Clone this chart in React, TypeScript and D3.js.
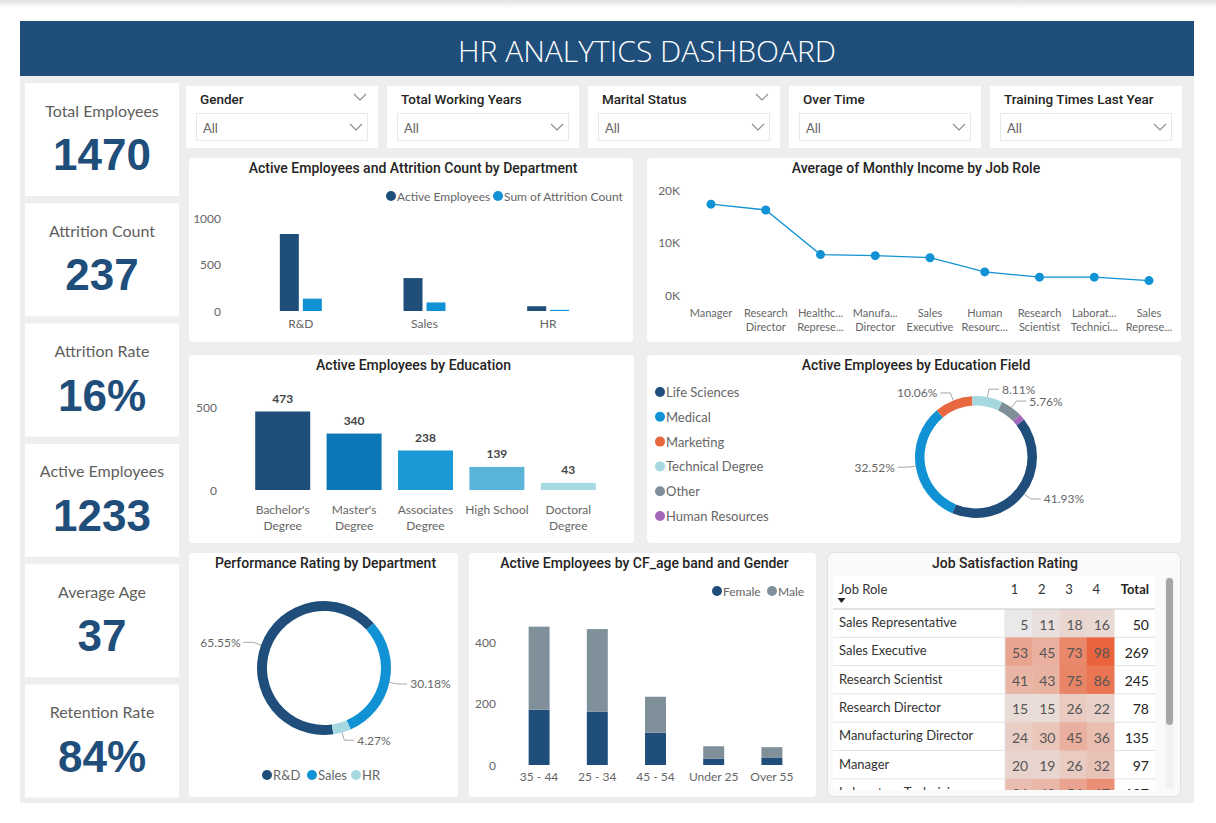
import React from 'react';
import * as d3 from 'd3';

// KPI cards
const kpiLabels = ['Total Employees', 'Attrition Count', 'Attrition Rate', 'Active Employees', 'Average Age', 'Retention Rate'];
const kpiValues = ['1470', '237', '16%', '1233', '37', '84%'];

// slicers
const slicerLabels = ['Gender', 'Total Working Years', 'Marital Status', 'Over Time', 'Training Times Last Year'];

// department bars
const departments = ['R&D', 'Sales', 'HR'];
const activeByDept = [828, 354, 51];
const attritionByDept = [133, 92, 12];

// monthly income by job role
const roleLabels = [
  ['Manager'], ['Research', 'Director'], ['Healthc...', 'Represe...'], ['Manufa...', 'Director'],
  ['Sales', 'Executive'], ['Human', 'Resourc...'], ['Research', 'Scientist'], ['Laborat...', 'Technici...'], ['Sales', 'Represe...'],
];
const avgIncome = [17300, 16200, 7700, 7500, 7100, 4400, 3400, 3400, 2750];

// education
const educationLabels = [["Bachelor's", 'Degree'], ["Master's", 'Degree'], ['Associates', 'Degree'], ['High School'], ['Doctoral', 'Degree']];
const educationValues = [473, 340, 238, 139, 43];

// education field
const fieldNames = ['Life Sciences', 'Medical', 'Marketing', 'Technical Degree', 'Other', 'Human Resources'];
const fieldValues = [517, 401, 124, 100, 71, 20];

// performance rating by department (share %)
const perfDepts = ['R&D', 'Sales', 'HR'];
const perfShares = [65.55, 30.18, 4.27];

// age band & gender
const ageBands = ['35 - 44', '25 - 34', '45 - 54', 'Under 25', 'Over 55'];
const femaleByAge = [180, 174, 105, 20, 23];
const maleByAge = [270, 268, 117, 41, 35];

// job satisfaction matrix
const tableRoles = ['Sales Representative', 'Sales Executive', 'Research Scientist', 'Research Director', 'Manufacturing Director', 'Manager', 'Laboratory Technician'];
const satisfactionCols = ['1', '2', '3', '4'];
const satisfaction = [
  [5, 11, 18, 16],
  [53, 45, 73, 98],
  [41, 43, 75, 86],
  [15, 15, 26, 22],
  [24, 30, 45, 36],
  [20, 19, 26, 32],
  [36, 40, 54, 67],
];

const W = 1216;
const H = 823;
const BODY = "Lato, 'Open Sans', sans-serif";
const HEAD = "Roboto, 'Open Sans', sans-serif";
const NAVY = '#1f4e7b';
const BLUE = '#1192d4';
const AXIS = '#666666';
const DEG = Math.PI / 180;

function Chevron({ x, y }: { x: number; y: number }) {
  return <path d={`M${x - 6},${y - 3} L${x},${y + 3} L${x + 6},${y - 3}`} fill="none" stroke="#8a8a8a" strokeWidth={1.1} />;
}

function Panel({ x, y, w, h, title, ty }: any) {
  return (
    <g>
      <rect x={x} y={y} width={w} height={h} rx={4} fill="#fff" />
      <text x={x + w / 2 + 2} y={ty} textAnchor="middle" dominantBaseline="central" fontFamily={HEAD} fontWeight={500} fontSize={14} fill="#252423">
        {title}
      </text>
    </g>
  );
}

function LegendDot({ x, y, color, label, size = 12 }: any) {
  return (
    <g>
      <circle cx={x} cy={y} r={5} fill={color} />
      <text x={x + 6} y={y} dominantBaseline="central" fontSize={size} fill={AXIS}>{label}</text>
    </g>
  );
}

function KpiCards() {
  return (
    <g>
      {kpiLabels.map((l, i) => {
        const top = 83 + i * 120.3;
        return (
          <g key={l}>
            <rect x={25} y={top} width={154} height={113} fill="#fff" />
            <text x={102} y={top + 27} textAnchor="middle" dominantBaseline="central" fontSize={16} fill="#605e5c">{l}</text>
            <text x={102} y={top + 87} textAnchor="middle" fontFamily="'Liberation Sans', Arial, sans-serif" fontWeight={700} fontSize={44} fill={NAVY}>{kpiValues[i]}</text>
          </g>
        );
      })}
    </g>
  );
}

function Slicers() {
  return (
    <g>
      {slicerLabels.map((l, i) => {
        const x = 186 + i * 201;
        return (
          <g key={l}>
            <rect x={x} y={86} width={192} height={62} fill="#fff" />
            <text x={x + 14} y={99} dominantBaseline="central" fontFamily={HEAD} fontWeight={500} fontSize={13.5} fill="#252423">{l}</text>
            {i === 0 || i === 2 ? <Chevron x={x + 174} y={97} /> : null}
            <rect x={x + 10.5} y={113.5} width={171} height={27} fill="#fff" stroke="#e8e8e8" />
            <text x={x + 17} y={127.5} dominantBaseline="central" fontSize={13} fill="#666">All</text>
            <Chevron x={x + 170} y={127} />
          </g>
        );
      })}
    </g>
  );
}

function DeptChart() {
  const x0 = d3.scaleBand<string>().domain(departments).range([239, 610]);
  const keys = ['active', 'attrition'];
  const x1 = d3.scaleBand<string>().domain(keys).range([-21, 21]).paddingInner(0.174);
  const y = d3.scaleLinear().domain([0, 1000]).range([311, 218]);
  const series = [activeByDept, attritionByDept];
  const colors = [NAVY, BLUE];
  return (
    <g>
      <Panel x={189} y={158} w={444} h={184} title="Active Employees and Attrition Count by Department" ty={168} />
      <LegendDot x={391} y={196} color={NAVY} label="Active Employees" />
      <LegendDot x={498} y={196} color={BLUE} label="Sum of Attrition Count" />
      {y.ticks(2).map((t) => (
        <text key={t} x={221} y={y(t)} textAnchor="end" dominantBaseline="central" fontSize={12} fill={AXIS}>{t}</text>
      ))}
      {departments.map((d, i) => (
        <g key={d}>
          {keys.map((k, j) => (
            <rect key={k} x={(x0(d) as number) + x0.bandwidth() / 2 + (x1(k) as number)} y={y(series[j][i])}
              width={x1.bandwidth()} height={y(0) - y(series[j][i])} fill={colors[j]} />
          ))}
          <text x={(x0(d) as number) + x0.bandwidth() / 2} y={323} textAnchor="middle" dominantBaseline="central" fontSize={12} fill={AXIS}>{d}</text>
        </g>
      ))}
    </g>
  );
}

function IncomeChart() {
  const x = d3.scalePoint<number>().domain(d3.range(avgIncome.length)).range([711, 1149]);
  const y = d3.scaleLinear().domain([0, 20000]).range([295, 190]);
  const line = d3.line<number>().x((_, i) => x(i) as number).y((d) => y(d));
  return (
    <g>
      <Panel x={647} y={158} w={534} h={184} title="Average of Monthly Income by Job Role" ty={168} />
      {y.ticks(2).map((t) => (
        <text key={t} x={680} y={y(t)} textAnchor="end" dominantBaseline="central" fontSize={12} fill={AXIS}>{t / 1000 + 'K'}</text>
      ))}
      <path d={line(avgIncome) as string} fill="none" stroke={BLUE} strokeWidth={1.3} />
      {avgIncome.map((v, i) => (
        <circle key={i} cx={x(i)} cy={y(v)} r={4.5} fill={BLUE} />
      ))}
      {roleLabels.map((lines, i) => (
        <text key={i} textAnchor="middle" fontSize={11} fill={AXIS}>
          {lines.map((ln, k) => (
            <tspan key={k} x={x(i)} y={312 + k * 14} dominantBaseline="central">{ln}</tspan>
          ))}
        </text>
      ))}
    </g>
  );
}

function EducationChart() {
  const x = d3.scaleBand<number>().domain(d3.range(educationValues.length)).range([247, 604]).paddingInner(0.23).paddingOuter(0.115);
  const y = d3.scaleLinear().domain([0, 500]).range([490, 407]);
  const colors = [NAVY, '#0b77b7', '#1a99d6', '#5ab4d8', '#a6d9e0'];
  return (
    <g>
      <Panel x={189} y={355} w={445} h={188} title="Active Employees by Education" ty={365} />
      {y.ticks(1).map((t) => (
        <text key={t} x={217} y={y(t)} textAnchor="end" dominantBaseline="central" fontSize={12} fill={AXIS}>{t}</text>
      ))}
      {educationValues.map((v, i) => {
        const cx = (x(i) as number) + x.bandwidth() / 2;
        return (
          <g key={i}>
            <rect x={x(i)} y={y(v)} width={x.bandwidth()} height={y(0) - y(v)} fill={colors[i]} />
            <text x={cx} y={y(v) - 13} textAnchor="middle" dominantBaseline="central" fontWeight={700} fontSize={12} fill="#444">{v}</text>
            <text textAnchor="middle" fontSize={12} fill={AXIS}>
              {educationLabels[i].map((ln, k) => (
                <tspan key={k} x={cx} y={509 + k * 16} dominantBaseline="central">{ln}</tspan>
              ))}
            </text>
          </g>
        );
      })}
    </g>
  );
}

function DonutLabels({ arcs, cx, cy, r, texts }: any) {
  return (
    <g>
      {arcs.map((a: any, i: number) => {
        if (!texts[i]) return null;
        const mid = (a.startAngle + a.endAngle) / 2;
        const s = Math.sin(mid);
        const c = Math.cos(mid);
        const p1 = [cx + s * r, cy - c * r];
        const p2 = [cx + s * (r + 8), cy - c * (r + 8)];
        const right = s >= 0;
        const p3 = [p2[0] + (right ? 10 : -10), p2[1]];
        return (
          <g key={i}>
            <polyline points={`${p1[0]},${p1[1]} ${p2[0]},${p2[1]} ${p3[0]},${p3[1]}`} fill="none" stroke="#a8a8a8" strokeWidth={1} />
            <text x={p3[0] + (right ? 3 : -3)} y={p3[1]} textAnchor={right ? 'start' : 'end'} dominantBaseline="central" fontSize={12} fill={AXIS}>{texts[i]}</text>
          </g>
        );
      })}
    </g>
  );
}

function EduFieldChart() {
  const colors = [NAVY, BLUE, '#e8683f', '#a6d8df', '#7f8f99', '#a466b8'];
  const total = d3.sum(fieldValues);
  const pie = d3.pie<number>().sort(null).startAngle(52 * DEG).endAngle(52 * DEG + 2 * Math.PI);
  const arcs = pie(fieldValues);
  const cx = 976;
  const cy = 457;
  const arc = d3.arc<any>().innerRadius(51.5).outerRadius(61);
  const fmt = d3.format('.2%');
  const texts = fieldValues.map((v) => (v / total > 0.03 ? fmt(v / total) : ''));
  return (
    <g>
      <Panel x={647} y={355} w={534} h={188} title="Active Employees by Education Field" ty={365} />
      {fieldNames.map((n, i) => (
        <LegendDot key={n} x={660} y={392 + i * 24.8} color={colors[i]} label={n} size={13} />
      ))}
      <g transform={`translate(${cx},${cy})`}>
        {arcs.map((a, i) => <path key={i} d={arc(a) as string} fill={colors[i]} />)}
      </g>
      <DonutLabels arcs={arcs} cx={cx} cy={cy} r={61} texts={texts} />
    </g>
  );
}

function PerfChart() {
  const colors = [NAVY, BLUE, '#a6d8df'];
  const pie = d3.pie<number>().sort(null).startAngle(172 * DEG).endAngle(172 * DEG + 2 * Math.PI);
  const arcs = pie(perfShares);
  const cx = 324;
  const cy = 668;
  const arc = d3.arc<any>().innerRadius(57).outerRadius(67);
  const texts = perfShares.map((v) => v.toFixed(2) + '%');
  const legendX = [267, 312, 356];
  return (
    <g>
      <Panel x={189} y={553} w={269} h={244} title="Performance Rating by Department" ty={563} />
      <g transform={`translate(${cx},${cy})`}>
        {arcs.map((a, i) => <path key={i} d={arc(a) as string} fill={colors[i]} />)}
      </g>
      <DonutLabels arcs={arcs} cx={cx} cy={cy} r={67} texts={texts} />
      {perfDepts.map((d, i) => (
        <LegendDot key={d} x={legendX[i]} y={775} color={colors[i]} label={d} size={13} />
      ))}
    </g>
  );
}

function AgeChart() {
  const x = d3.scaleBand<string>().domain(ageBands).range([510, 801]).paddingInner(0.64).paddingOuter(0.32);
  const y = d3.scaleLinear().domain([0, 400]).range([765, 642]);
  const rows = ageBands.map((b, i) => ({ band: b, female: femaleByAge[i], male: maleByAge[i] }));
  const stack = d3.stack<any>().keys(['female', 'male'])(rows);
  const colors = [NAVY, '#7f909b'];
  return (
    <g>
      <Panel x={469} y={553} w={347} h={244} title="Active Employees by CF_age band and Gender" ty={563} />
      <LegendDot x={717} y={591} color={NAVY} label="Female" />
      <LegendDot x={772} y={591} color={colors[1]} label="Male" />
      {y.ticks(2).map((t) => (
        <text key={t} x={496} y={y(t)} textAnchor="end" dominantBaseline="central" fontSize={12} fill={AXIS}>{t}</text>
      ))}
      {stack.map((s, k) => (
        <g key={k}>
          {s.map((seg: any, i: number) => (
            <rect key={i} x={x(ageBands[i])} y={y(seg[1])} width={x.bandwidth()} height={y(seg[0]) - y(seg[1])} fill={colors[k]} />
          ))}
        </g>
      ))}
      {ageBands.map((b) => (
        <text key={b} x={(x(b) as number) + x.bandwidth() / 2} y={776} textAnchor="middle" dominantBaseline="central" fontSize={12} fill={AXIS}>{b}</text>
      ))}
    </g>
  );
}

function SatisfactionTable() {
  const flat = satisfaction.flat();
  const heat = d3.scaleLinear<string>().domain(d3.extent(flat) as [number, number]).range(['#e9e9e9', '#e9643c']).interpolate(d3.interpolateRgb);
  const cellX = d3.scaleBand<string>().domain(satisfactionCols).range([1005, 1114]);
  const rowY = d3.scaleBand<number>().domain(d3.range(tableRoles.length)).range([609, 609 + 28.3 * tableRoles.length]);
  const left = 833;
  const right = 1155;
  return (
    <g>
      <rect x={827.5} y={552.5} width={353} height={244} rx={6} fill="#fafafa" stroke="#e2e2e2" />
      <text x={1005} y={563} textAnchor="middle" dominantBaseline="central" fontFamily={HEAD} fontWeight={500} fontSize={14} fill="#252423">Job Satisfaction Rating</text>
      <g clipPath="url(#tableClip)">
        <rect x={left} y={576} width={right - left} height={220} fill="#fff" />
        <text x={839} y={589} dominantBaseline="central" fontSize={13} fill="#333">Job Role</text>
        <path d="M837.5,598 L845.5,598 L841.5,603 Z" fill="#252423" />
        {satisfactionCols.map((c) => (
          <text key={c} x={(cellX(c) as number) + cellX.bandwidth() / 2 - 4} y={589} textAnchor="middle" dominantBaseline="central" fontSize={13} fill="#333">{c}</text>
        ))}
        <text x={1149} y={589} textAnchor="end" dominantBaseline="central" fontWeight={700} fontSize={13} fill="#252423">Total</text>
        {tableRoles.map((role, r) => {
          const top = rowY(r) as number;
          const h = rowY.bandwidth();
          return (
            <g key={role}>
              {satisfaction[r].map((v, c) => (
                <g key={c}>
                  <rect x={cellX(satisfactionCols[c])} y={top} width={cellX.bandwidth() + 0.5} height={h + 0.5} fill={heat(v)} />
                  <text x={(cellX(satisfactionCols[c]) as number) + cellX.bandwidth() - 4} y={top + 15} textAnchor="end" dominantBaseline="central" fontSize={14} fill="#555">{v}</text>
                </g>
              ))}
              <text x={839} y={top + 13} dominantBaseline="central" fontSize={13} fill="#333">{role}</text>
              <text x={1149} y={top + 15} textAnchor="end" dominantBaseline="central" fontSize={14} fill="#222">{d3.sum(satisfaction[r])}</text>
              <line x1={left} x2={1005} y1={top + h} y2={top + h} stroke="#e3e3e3" />
              <line x1={1114} x2={right} y1={top + h} y2={top + h} stroke="#e3e3e3" />
            </g>
          );
        })}
        <line x1={1005} x2={1005} y1={609} y2={800} stroke="#e3e3e3" />
        <line x1={left} x2={right} y1={609} y2={609} stroke="#c8c8c8" strokeWidth={1.2} />
      </g>
      <rect x={1165} y={577} width={9} height={212} rx={4.5} fill="#f2f2f2" />
      <rect x={1166} y={578} width={7} height={147} rx={3.5} fill="#a6a6a6" />
    </g>
  );
}

export default function App() {
  return (
    <svg width={W} height={H} style={{ position: 'absolute', left: 0, top: 0, background: '#fff' }} fontFamily={BODY}>
      <defs>
        <linearGradient id="topShade" x1="0" y1="0" x2="0" y2="1">
          <stop offset="0" stopColor="#e2e2e2" />
          <stop offset="1" stopColor="#ffffff" />
        </linearGradient>
        <clipPath id="tableClip">
          <rect x={833} y={576} width={325} height={214} />
        </clipPath>
      </defs>
      <rect x={0} y={0} width={W} height={8} fill="url(#topShade)" />
      <rect x={20} y={21} width={1174} height={782} fill="#eeeeee" />
      <rect x={20} y={21} width={1174} height={55} fill={NAVY} />
      <text x={647} y={50} textAnchor="middle" dominantBaseline="central" fontFamily="'Open Sans', Lato, sans-serif" fontWeight={300} fontSize={30} fill="#fff">
        HR ANALYTICS DASHBOARD
      </text>
      <KpiCards />
      <Slicers />
      <DeptChart />
      <IncomeChart />
      <EducationChart />
      <EduFieldChart />
      <PerfChart />
      <AgeChart />
      <SatisfactionTable />
    </svg>
  );
}
